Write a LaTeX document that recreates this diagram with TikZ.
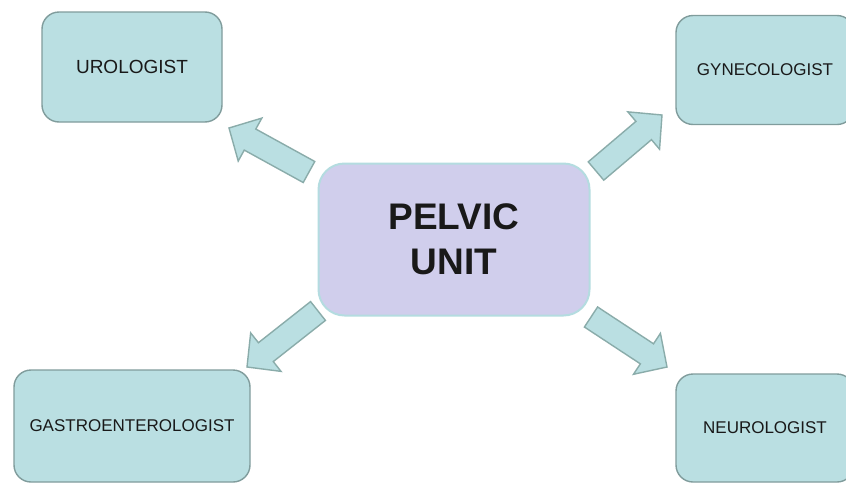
\documentclass[tikz,border=0pt]{standalone}
\usepackage{fontspec}
\setmainfont{Liberation Sans}
\usetikzlibrary{calc}
\definecolor{tealfill}{RGB}{186,223,226}
\definecolor{boxline}{RGB}{128,156,156}
\definecolor{arrline}{RGB}{138,172,170}
\definecolor{lavfill}{RGB}{208,206,236}
\definecolor{lavline}{RGB}{180,220,224}
\definecolor{txt}{RGB}{25,25,25}
\tikzset{
  spec/.style={draw=boxline, line width=1.4pt, fill=tealfill, rounded corners=17pt,
    text=txt, font=\fontsize{17}{20}\selectfont, inner sep=0pt},
  hub/.style={draw=lavline, line width=2pt, fill=lavfill, rounded corners=26pt,
    text=txt, font=\bfseries\fontsize{37}{45}\selectfont, align=center,
    minimum width=271pt, minimum height=152pt, inner sep=0pt},
  blockarr/.style={draw=arrline, line width=1.4pt, fill=tealfill, line join=miter},
}
\newcommand{\blockarrow}[2]{%
  \coordinate (hb) at ($(#2)!24pt!(#1)$);
  \draw[blockarr] ($(#1)!12pt!90:(#2)$) -- ($(hb)!12pt!-90:(#1)$) -- ($(hb)!24.5pt!-90:(#1)$)
    -- (#2) -- ($(hb)!24.5pt!90:(#1)$) -- ($(hb)!12pt!90:(#1)$) -- ($(#1)!12pt!-90:(#2)$) -- cycle;}
\begin{document}
\begin{tikzpicture}[x=1pt,y=-1pt]
\useasboundingbox (0,0) rectangle (846,485);
\clip (0,0) rectangle (846,485);
\fill[white] (0,0) rectangle (846,485);
% specialist boxes
\node[spec, minimum width=180pt, minimum height=110pt, font=\fontsize{19}{22}\selectfont] (uro) at (132,67) {UROLOGIST};
\node[spec, minimum width=178pt, minimum height=109pt] (gyn) at (765,70) {GYNECOLOGIST};
\node[spec, minimum width=236pt, minimum height=112pt] (gas) at (132,426) {GASTROENTEROLOGIST};
\node[spec, minimum width=178pt, minimum height=108pt] (neu) at (765,428) {NEUROLOGIST};
% hub
\node[hub] (pel) at (454,239.5) {PELVIC\\UNIT};
% arrow end points
\coordinate (t1) at (309,172); \coordinate (p1) at (229,128);
\coordinate (t2) at (596,171); \coordinate (p2) at (662,115);
\coordinate (t3) at (318,311); \coordinate (p3) at (247,367);
\coordinate (t4) at (591,317); \coordinate (p4) at (667,367);
\blockarrow{t1}{p1}
\blockarrow{t2}{p2}
\blockarrow{t3}{p3}
\blockarrow{t4}{p4}
\end{tikzpicture}
\end{document}
